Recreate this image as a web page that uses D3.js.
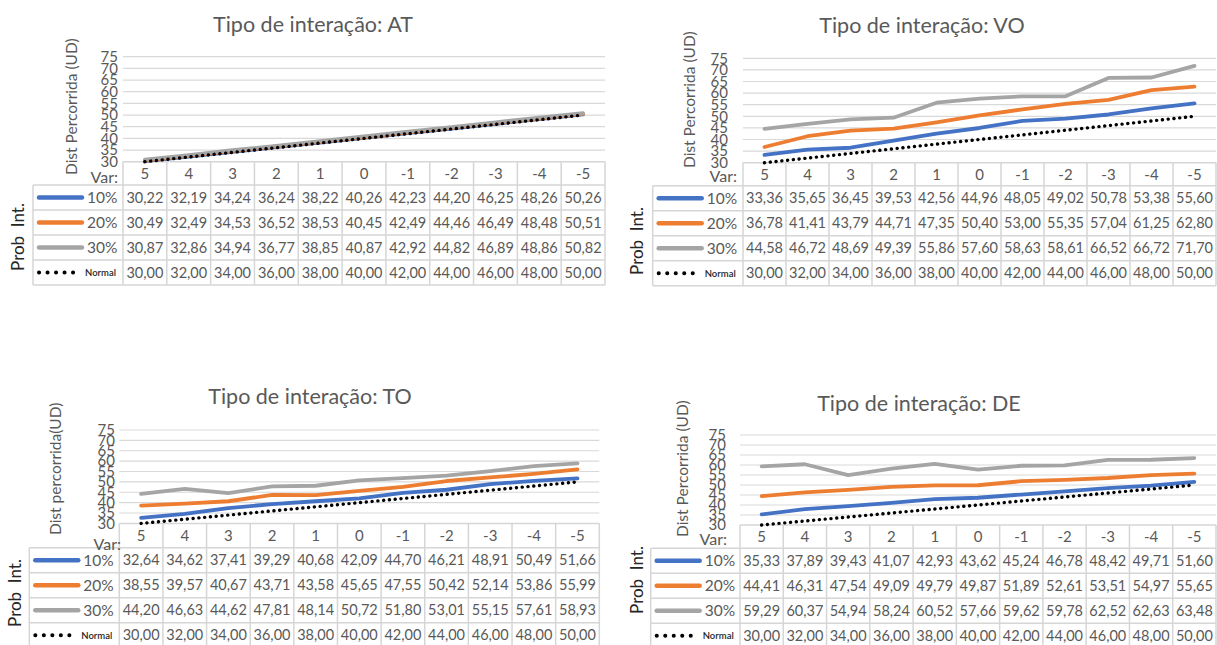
<!DOCTYPE html>
<html>
<head>
<meta charset="utf-8">
<script src="https://cdn.jsdelivr.net/npm/d3@7"></script>
<style>
  html, body { margin: 0; padding: 0; background: #fff; }
  svg { display: block; }
  text { font-family: Lato, "Open Sans", sans-serif; }
</style>
</head>
<body>
<script>
// Category labels ("Var:") shared by the four tables
const categories = ["5", "4", "3", "2", "1", "0", "-1", "-2", "-3", "-4", "-5"];
const yTicks = [30, 35, 40, 45, 50, 55, 60, 65, 70, 75];
const seriesNames = ["10%", "20%", "30%", "Normal"];
const seriesColors = ["#4472C4", "#ED7D31", "#A5A5A5", "#000000"];

// Reference curve, identical in every panel
const normal = [30.00, 32.00, 34.00, 36.00, 38.00, 40.00, 42.00, 44.00, 46.00, 48.00, 50.00];

// Tipo de interação: AT
const at10 = [30.22, 32.19, 34.24, 36.24, 38.22, 40.26, 42.23, 44.20, 46.25, 48.26, 50.26];
const at20 = [30.49, 32.49, 34.53, 36.52, 38.53, 40.45, 42.49, 44.46, 46.49, 48.48, 50.51];
const at30 = [30.87, 32.86, 34.94, 36.77, 38.85, 40.87, 42.92, 44.82, 46.89, 48.86, 50.82];

// Tipo de interação: VO
const vo10 = [33.36, 35.65, 36.45, 39.53, 42.56, 44.96, 48.05, 49.02, 50.78, 53.38, 55.60];
const vo20 = [36.78, 41.41, 43.79, 44.71, 47.35, 50.40, 53.00, 55.35, 57.04, 61.25, 62.80];
const vo30 = [44.58, 46.72, 48.69, 49.39, 55.86, 57.60, 58.63, 58.61, 66.52, 66.72, 71.70];

// Tipo de interação: TO
const to10 = [32.64, 34.62, 37.41, 39.29, 40.68, 42.09, 44.70, 46.21, 48.91, 50.49, 51.66];
const to20 = [38.55, 39.57, 40.67, 43.71, 43.58, 45.65, 47.55, 50.42, 52.14, 53.86, 55.99];
const to30 = [44.20, 46.63, 44.62, 47.81, 48.14, 50.72, 51.80, 53.01, 55.15, 57.61, 58.93];

// Tipo de interação: DE
const de10 = [35.33, 37.89, 39.43, 41.07, 42.93, 43.62, 45.24, 46.78, 48.42, 49.71, 51.60];
const de20 = [44.41, 46.31, 47.54, 49.09, 49.79, 49.87, 51.89, 52.61, 53.51, 54.97, 55.65];
const de30 = [59.29, 60.37, 54.94, 58.24, 60.52, 57.66, 59.62, 59.78, 62.52, 62.63, 63.48];

// Panel layout: plot/table edges, title and label anchors
const panels = [
  { title: "Tipo de interação: AT", yTitle: "Dist Percorrida (UD)", series: [at10, at20, at30, normal],
    legendLeft: 33, x0: 123, x1: 605, y30: 161.7, y75: 56.7, headerBottom: 185,
    tickRight: 118, titleX: 313, titleY: 32, yTitleX: 72, yTitleBottom: 175,
    varRight: 118, varY: 183, probX: 18, probY: 237 },
  { title: "Tipo de interação: VO", yTitle: "Dist Percorrida (UD)", series: [vo10, vo20, vo30, normal],
    legendLeft: 652.7, x0: 743, x1: 1216, y30: 162.7, y75: 58.3, headerBottom: 185.7,
    tickRight: 728, titleX: 922, titleY: 33, yTitleX: 690, yTitleBottom: 168,
    varRight: 737, varY: 182, probX: 637, probY: 241 },
  { title: "Tipo de interação: TO", yTitle: "Dist percorrida(UD)", series: [to10, to20, to30, normal],
    legendLeft: 29.3, x0: 119.3, x1: 599.3, y30: 523.4, y75: 430, headerBottom: 547.7,
    tickRight: 115, titleX: 310, titleY: 404, yTitleX: 56, yTitleBottom: 535,
    varRight: 121, varY: 550, probX: 15, probY: 593 },
  { title: "Tipo de interação: DE", yTitle: "Dist Percorrida (UD)", series: [de10, de20, de30, normal],
    legendLeft: 650.7, x0: 740, x1: 1216, y30: 525, y75: 435, headerBottom: 548.3,
    tickRight: 726, titleX: 919, titleY: 411, yTitleX: 683, yTitleBottom: 537,
    varRight: 727, varY: 545, probX: 637, probY: 580 }
];

const ROW_H = 25;
const TEXT = "#595959";
const BORDER = "#d6d6d6";
const GRID = "#d9d9d9";
const fmt = v => d3.format(".2f")(v).replace(".", ",");

const svg = d3.select("body").append("svg")
  .attr("width", 1217).attr("height", 645);

panels.forEach(p => {
  const g = svg.append("g");
  const x = d3.scaleBand().domain(categories).range([p.x0, p.x1]).padding(0);
  const y = d3.scaleLinear().domain([30, 75]).range([p.y30, p.y75]);
  const bw = x.bandwidth();
  const tableBottom = p.headerBottom + ROW_H * seriesNames.length;

  // Title
  g.append("text")
    .attr("x", p.titleX).attr("y", p.titleY)
    .attr("text-anchor", "middle")
    .attr("font-size", 21.5).attr("fill", TEXT)
    .text(p.title);

  // Horizontal gridlines
  g.append("g").selectAll("line")
    .data(yTicks.slice(1))
    .join("line")
    .attr("x1", p.x0).attr("x2", p.x1)
    .attr("y1", d => y(d)).attr("y2", d => y(d))
    .attr("stroke", GRID).attr("stroke-width", 1.2);

  // Value axis labels
  const axis = g.append("g")
    .attr("transform", `translate(${p.tickRight},0)`)
    .call(d3.axisLeft(y).tickValues(yTicks).tickSize(0).tickPadding(0));
  axis.select(".domain").remove();
  axis.selectAll("text")
    .attr("font-family", "Lato, sans-serif")
    .attr("font-size", 15).attr("fill", TEXT);

  // Value axis title
  g.append("text")
    .attr("transform", `translate(${p.yTitleX},${p.yTitleBottom}) rotate(-90)`)
    .attr("dy", "0.35em")
    .attr("font-size", 15.5).attr("fill", TEXT)
    .text(p.yTitle);

  // Data table borders
  const borders = g.append("g").attr("stroke", BORDER).attr("stroke-width", 1.5);
  // vertical column separators
  borders.selectAll("line.col")
    .data(d3.range(categories.length + 1))
    .join("line")
    .attr("x1", k => p.x0 + k * bw).attr("x2", k => p.x0 + k * bw)
    .attr("y1", p.y30).attr("y2", tableBottom);
  // axis line / header top
  borders.append("line")
    .attr("x1", p.x0).attr("x2", p.x1)
    .attr("y1", p.y30).attr("y2", p.y30);
  // row separators across legend and values
  borders.selectAll("line.row")
    .data(d3.range(seriesNames.length + 1))
    .join("line")
    .attr("x1", p.legendLeft).attr("x2", p.x1)
    .attr("y1", r => p.headerBottom + r * ROW_H).attr("y2", r => p.headerBottom + r * ROW_H);
  // legend column left edge
  borders.append("line")
    .attr("x1", p.legendLeft).attr("x2", p.legendLeft)
    .attr("y1", p.headerBottom).attr("y2", tableBottom);

  // Category header
  g.append("g").selectAll("text")
    .data(categories)
    .join("text")
    .attr("x", d => x(d) + bw / 2)
    .attr("y", (p.y30 + p.headerBottom) / 2)
    .attr("dy", "0.36em")
    .attr("text-anchor", "middle")
    .attr("font-size", 15).attr("fill", TEXT)
    .text(d => d);

  g.append("text")
    .attr("x", p.varRight).attr("y", p.varY)
    .attr("text-anchor", "end")
    .attr("font-size", 16).attr("fill", TEXT)
    .text("Var:");

  // Legend-axis label of the table
  g.append("text")
    .attr("transform", `translate(${p.probX},${p.probY}) rotate(-90)`)
    .attr("dy", "0.35em")
    .attr("text-anchor", "middle")
    .attr("font-size", 17).attr("fill", "#262626")
    .style("white-space", "pre")
    .text("Prob  Int.");

  // Table rows: legend key + values
  p.series.forEach((vals, si) => {
    const cy = p.headerBottom + si * ROW_H + ROW_H / 2;
    const isNormal = seriesNames[si] === "Normal";
    g.append("line")
      .attr("x1", p.legendLeft + 6).attr("x2", isNormal ? p.legendLeft + 40.5 : p.legendLeft + 49)
      .attr("y1", cy).attr("y2", cy)
      .attr("stroke", seriesColors[si])
      .attr("stroke-width", isNormal ? 4 : 4.5)
      .attr("stroke-linecap", "round")
      .attr("stroke-dasharray", isNormal ? "0.1 8.4" : null);
    g.append("text")
      .attr("x", isNormal ? p.legendLeft + 52 : p.legendLeft + 54)
      .attr("y", cy).attr("dy", "0.36em")
      .attr("font-size", isNormal ? 9.5 : 15.5)
      .attr("font-weight", isNormal ? 600 : 400)
      .attr("fill", isNormal ? "#262626" : TEXT)
      .text(seriesNames[si]);
    g.append("g").selectAll("text")
      .data(vals)
      .join("text")
      .attr("x", (d, i) => x(categories[i]) + bw / 2)
      .attr("y", cy).attr("dy", "0.36em")
      .attr("text-anchor", "middle")
      .attr("font-size", 14.5).attr("fill", TEXT)
      .text(d => fmt(d));
  });

  // Series lines
  const line = d3.line()
    .x((d, i) => x(categories[i]) + bw / 2)
    .y(d => y(d));
  p.series.forEach((vals, si) => {
    const isNormal = seriesNames[si] === "Normal";
    g.append("path")
      .datum(vals)
      .attr("d", line)
      .attr("fill", "none")
      .attr("stroke", seriesColors[si])
      .attr("stroke-width", isNormal ? 3.4 : 3.8)
      .attr("stroke-linejoin", "round")
      .attr("stroke-linecap", "round")
      .attr("stroke-dasharray", isNormal ? "0.1 5.7" : null);
  });
});
</script>
</body>
</html>
